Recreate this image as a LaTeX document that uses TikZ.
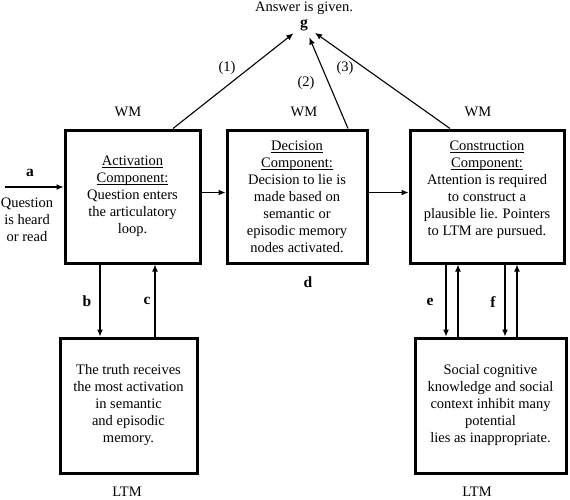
\documentclass[tikz,border=0pt]{standalone}
\usepackage{fontspec}
\setmainfont{Liberation Serif}
\usetikzlibrary{positioning,calc,arrows.meta}
\newcommand\ulc[1]{\setbox0\hbox{#1}\rlap{\rule[-2.2pt]{\wd0}{0.7pt}}\box0}

\begin{document}
\begin{tikzpicture}[x=1pt,y=-1pt,
    every node/.style={font=\fontsize{14.5}{17}\selectfont},
    comp/.style={draw,line width=3pt,align=center,inner sep=2pt},
    tag/.style={font=\fontsize{15.5}{17}\selectfont\bfseries},
    >={Latex[length=7pt,width=6pt]}, line width=1.1pt]
    \useasboundingbox (0,0) rectangle (570,499);
    % working memory components
    \node[comp,minimum width=135pt,minimum height=133pt] (act) at (132.5,196.5)
        {\ulc{Activation}\\\ulc{Component:}\\Question enters\\the articulatory\\loop.};
    \node[comp,minimum width=140pt,minimum height=133pt] (dec) at (297,196.5)
        {\ulc{Decision}\\\ulc{Component:}\\Decision to lie is\\made based on\\semantic or\\episodic memory\\nodes activated.};
    \node[comp,minimum width=154pt,minimum height=133pt] (con) at (487,196.5)
        {\ulc{Construction}\\\ulc{Component:}\\Attention is required\\to construct a\\plausible lie. Pointers\\to LTM are pursued.\\\mbox{}};
    % long term memory
    \node[comp,minimum width=137pt,minimum height=135pt] (truth) at (128.5,405.5)
        {The truth receives\\the most activation\\in semantic\\and episodic\\memory.};
    \node[comp,minimum width=151pt,minimum height=135pt] (social) at (490.5,405.5)
        {Social cognitive\\knowledge and social\\context inhibit many\\potential\\lies as inappropriate.};
    \node (wm1) at (128,112) {WM};
    \node (wm2) at (304,112) {WM};
    \node (wm3) at (478,112) {WM};
    \node (ltm1) at (127,492) {LTM};
    \node (ltm2) at (477,492) {LTM};
    \node (ans) at (304,8) {Answer is given.};
    \node[tag,circle,minimum size=26pt,inner sep=0pt] (g) at (304,25) {g};
    \node (q) at (27,220) [align=center] {Question\\is heard\\or read};
    \coordinate (qin) at (5,187);
    \node[tag] (a) at (30,173) {a};
    \node[tag] (b) at (87,301) {b};
    \node[tag] (c) at (147,301) {c};
    \node[tag] (d) at (308,282) {d};
    \node[tag] (e) at (430,302) {e};
    \node[tag] (f) at (493,302) {f};
    \node (n1) at (227,68) {(1)};
    \node (n2) at (306,83) {(2)};
    \node (n3) at (345,68) {(3)};
    % connectors
    \draw[->] (qin) -- (qin -| act.west);
    \draw[->] ([yshift=4pt]act.east) -- ([yshift=4pt]dec.west);
    \draw[->] ([yshift=4pt]dec.east) -- ([yshift=4pt]con.west);
    \draw[->] ([xshift=-32.5pt]act.south) -- ([xshift=-32.5pt]act.south |- truth.north);
    \draw[->] ([xshift=22.5pt]act.south |- truth.north) -- ([xshift=22.5pt]act.south);
    \draw[->] ([xshift=-41pt]con.south) -- ([xshift=-41pt]con.south |- social.north);
    \draw[->] ([xshift=-29pt]con.south |- social.north) -- ([xshift=-29pt]con.south);
    \draw[->] ([xshift=18pt]con.south) -- ([xshift=18pt]con.south |- social.north);
    \draw[->] ([xshift=30pt]con.south |- social.north) -- ([xshift=30pt]con.south);
    \draw[->] ([xshift=40.5pt]act.north) -- (g);
    \draw[->] ([xshift=51pt]dec.north) -- (g);
    \draw[->] ([xshift=-37pt]con.north) -- (g);
\end{tikzpicture}
\end{document}
